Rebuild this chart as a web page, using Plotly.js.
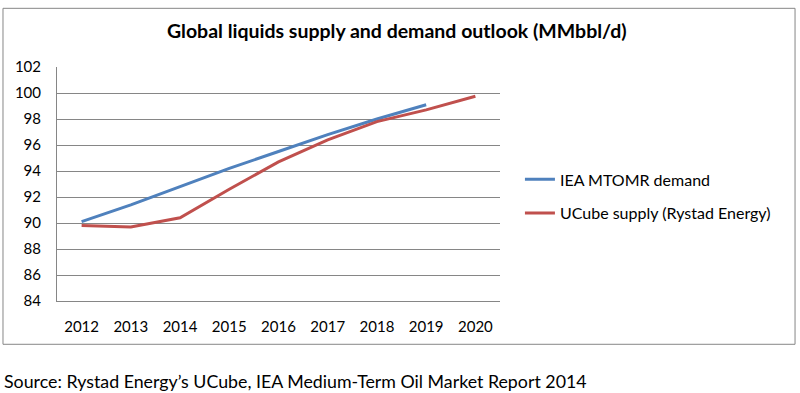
<!DOCTYPE html>
<html>
<head>
<meta charset="utf-8">
<script src="https://cdn.plot.ly/plotly-3.0.1.min.js"></script>
<style>html,body{margin:0;padding:0;background:#fff;}#chart{width:800px;height:393px;}</style>
</head>
<body>
<div id="chart"></div>
<script>
var years = ['2012','2013','2014','2015','2016','2017','2018','2019','2020'];
var demandYears = ['2012','2013','2014','2015','2016','2017','2018','2019'];
var demand = [90.1, 91.4, 92.8, 94.2, 95.5, 96.8, 98.0, 99.1];
var supply = [89.8, 89.7, 90.4, 92.6, 94.7, 96.4, 97.8, 98.7, 99.75];
var yTicks = [84, 86, 88, 90, 92, 94, 96, 98, 100, 102];
var titleText = 'Global liquids supply and demand outlook (MMbbl/d)';
var sourceText = 'Source: Rystad Energy\u2019s UCube, IEA Medium-Term Oil Market Report 2014';
var FONT = 'Lato, "Open Sans", sans-serif';

var traces = [
  {x: demandYears, y: demand, type: 'scatter', mode: 'lines', name: 'IEA MTOMR demand',
   line: {color: '#4F81BD', width: 3}, legendgroup: 'a'},
  {x: years, y: supply, type: 'scatter', mode: 'lines', name: 'UCube supply (Rystad Energy)',
   line: {color: '#C0504D', width: 3}, legendgroup: 'b'}
];

var layout = {
  width: 800, height: 393,
  margin: {l: 57, r: 300, t: 67, b: 92},
  paper_bgcolor: '#fff', plot_bgcolor: '#fff',
  font: {family: FONT, size: 15, color: '#000'},
  title: {text: '<b>' + titleText + '</b>', x: 0.767, xanchor: 'center', y: 0.921, yanchor: 'middle',
          xref: 'paper', font: {family: FONT, size: 19.5, color: '#000'}},
  xaxis: {type: 'category', categoryorder: 'array', categoryarray: years, range: [-0.5, 8.5],
          showgrid: false, showline: true, linecolor: '#868686', linewidth: 1,
          ticks: '', ticklabelstandoff: 12, tickfont: {family: FONT, size: 15}, fixedrange: true},
  yaxis: {range: [84, 102], tickvals: yTicks, showgrid: true, gridcolor: '#868686', gridwidth: 1,
          showline: true, linecolor: '#868686', linewidth: 1, zeroline: false,
          ticks: '', ticklabelstandoff: 12, tickfont: {family: FONT, size: 15}, fixedrange: true},
  showlegend: true,
  legend: {x: 1.045, xanchor: 'left', y: 0.447, yanchor: 'middle', traceorder: 'grouped',
           tracegroupgap: 10, font: {family: FONT, size: 16}, bgcolor: 'rgba(0,0,0,0)',
           itemwidth: 30},
  shapes: [
    {type: 'rect', xref: 'paper', yref: 'paper', x0: -0.1219, x1: 1.666, y0: -0.185, y1: 1.2508,
     line: {color: '#868686', width: 1}, fillcolor: 'rgba(0,0,0,0)', layer: 'below'}
  ],
  annotations: [
    {text: sourceText, xref: 'paper', yref: 'paper', x: -0.124, y: -0.343, xanchor: 'left',
     yanchor: 'middle', showarrow: false, font: {family: FONT, size: 17.8, color: '#000'}}
  ]
};

Plotly.newPlot('chart', traces, layout, {displayModeBar: false, staticPlot: true});
</script>
</body>
</html>
